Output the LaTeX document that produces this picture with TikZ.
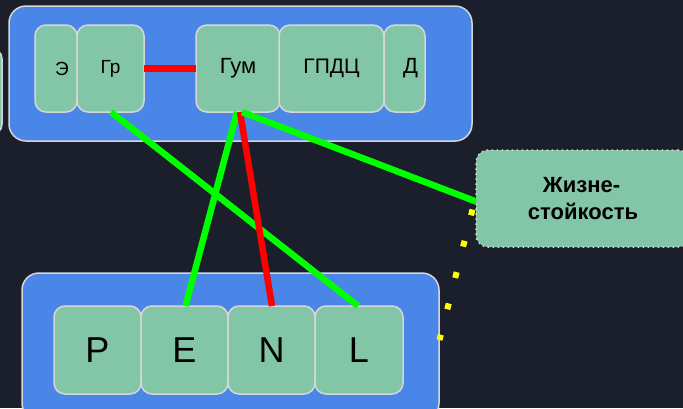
\documentclass[tikz,border=0pt]{standalone}
\usepackage{fontspec}
\setmainfont{Liberation Sans}
\definecolor{bg}{HTML}{1B1F2B}
\definecolor{cont}{HTML}{4A86E8}
\definecolor{boxg}{HTML}{83C6A7}
\definecolor{edge}{HTML}{D6D6D6}
\tikzset{
  container/.style={draw=edge, line width=1.5pt, fill=cont, rounded corners=17pt, inner sep=0pt, outer sep=0pt},
  cell/.style={draw=edge, line width=1.5pt, fill=boxg, rounded corners=11pt, inner sep=0pt, outer sep=0pt, text=black},
  glink/.style={draw={rgb,255:red,0;green,255;blue,0}, line width=6.5pt},
  rlink/.style={draw={rgb,255:red,255;green,0;blue,0}, line width=6.5pt},
  ylink/.style={draw={rgb,255:red,255;green,255;blue,0}, line width=6pt, dash pattern=on 6pt off 26.3pt},
}
\begin{document}
\begin{tikzpicture}[x=1pt,y=-1pt]
\clip (0,0) rectangle (683,408);
\fill[bg] (0,0) rectangle (683,408);
% partial node at left edge
\node[cell, minimum width=30pt, minimum height=87pt] (side) at (-13,91.5) {};
% top container
\node[container, minimum width=463pt, minimum height=135pt] (top) at (240.5,73.5) {};
\node[cell, minimum width=42pt, minimum height=87pt, font=\fontsize{19}{22}\selectfont] (E1) at (56,68.5) {\hspace*{12pt}Э};
\node[cell, minimum width=67pt, minimum height=87pt, font=\fontsize{19}{22}\selectfont] (Gr) at (110.5,68.5) {Гр};
\node[cell, minimum width=84pt, minimum height=87pt, font=\fontsize{22}{26}\selectfont] (Gum) at (238,68.5) {Гум};
\node[cell, minimum width=105pt, minimum height=87pt, font=\fontsize{21}{25}\selectfont] (GPDC) at (331.5,68.5) {ГПДЦ};
\node[cell, minimum width=41pt, minimum height=87pt, font=\fontsize{22}{26}\selectfont] (D) at (404.5,68.5) {\hspace*{12pt}Д};
% bottom container
\node[container, minimum width=417pt, minimum height=147pt] (bot) at (230.5,346.5) {};
\node[cell, minimum width=87pt, minimum height=88pt, font=\fontsize{36}{40}\selectfont] (P) at (97.5,350) {P};
\node[cell, minimum width=87pt, minimum height=88pt, font=\fontsize{36}{40}\selectfont] (Ee) at (184.5,350) {E};
\node[cell, minimum width=87pt, minimum height=88pt, font=\fontsize{36}{40}\selectfont] (N) at (271.5,350) {N};
\node[cell, minimum width=88pt, minimum height=88pt, font=\fontsize{36}{40}\selectfont] (L) at (359,350) {L};
% Zhiznestoykost
\node[draw=edge, line width=1.5pt, dash pattern=on 1.5pt off 3.5pt, fill=boxg, rounded corners=12pt, minimum width=214pt, minimum height=97pt, inner sep=0pt, outer sep=0pt, align=center, font=\bfseries\fontsize{22}{27}\selectfont, text=black] (Zh) at (583,198.5) {\hspace*{-3pt}Жизне-\\стойкость};
% links
\coordinate (yA) at (472.5,209.5);
\coordinate (yB) at (439.5,340);
\draw[ylink] (yA) -- (yB);
\draw[rlink] (Gr.east) -- (Gum.west);
\draw[glink] ([xshift=0.5pt]Gr.south) -- ([xshift=-1pt]L.north);
\draw[glink] ([xshift=-1pt]Gum.south) -- ([xshift=1pt]Ee.north);
\draw[rlink] ([xshift=2pt]Gum.south) -- ([xshift=0.5pt]N.north);
\draw[glink] ([xshift=4pt]Gum.south) -- ([yshift=-3pt]Zh.west);
\end{tikzpicture}
\end{document}
